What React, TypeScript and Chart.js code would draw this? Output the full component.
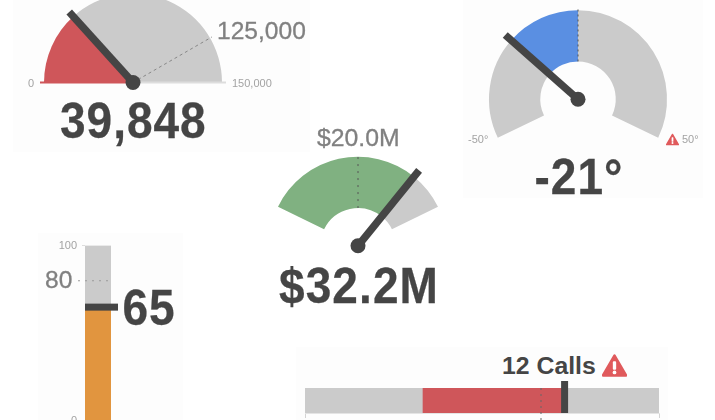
import React, { useEffect, useRef } from "react";
import { Chart, registerables } from "chart.js";

Chart.register(...registerables);

// ---- data ----
const revenueMin = 0;
const revenueMax = 150000;
const revenueValue = 39848;
const revenueTarget = 125000;

const tempMin = -50;
const tempMax = 50;
const tempValue = -21;
const tempTarget = 0;

const salesMin = 0;
const salesMax = 40;
const salesValue = 32.2;
const salesTarget = 20;

const levelMin = 0;
const levelMax = 100;
const levelValue = 65;
const levelTarget = 80;

const callsMin = -10;
const callsMax = 20;
const callsBase = 0;
const callsValue = 12;
const callsTarget = 10;

// ---- style ----
const GREY = "#cbcbcb";
const RED = "#cf565a";
const BLUE = "#5a8fe2";
const GREEN = "#80b181";
const ORANGE = "#e1953f";
const DARK = "#454545";
const MUTED = "#808080";
const LIGHT = "#a3a3a3";
const FONT = '"Liberation Sans", Arial, sans-serif';

const overlay = {
  id: "overlay",
  afterDatasetsDraw(chart: any) {
    const o = chart.options.plugins.overlay;
    if (!o) return;
    const ctx = chart.ctx;
    ctx.save();
    if (o.kind === "gauge") {
      const el = chart.getDatasetMeta(0).data[0];
      const cx = el.x;
      const cy = el.y;
      const R = el.outerRadius;
      const r = el.innerRadius;
      const angle = (v: number) =>
        ((o.rotation + ((v - o.min) / (o.max - o.min)) * o.circumference - 90) * Math.PI) / 180;
      if (o.base) {
        ctx.lineWidth = 2;
        ctx.strokeStyle = o.base[0];
        ctx.beginPath();
        ctx.moveTo(cx - R - 4, cy);
        ctx.lineTo(cx, cy);
        ctx.stroke();
        ctx.strokeStyle = o.base[1];
        ctx.beginPath();
        ctx.moveTo(cx, cy);
        ctx.lineTo(cx + R + 4, cy);
        ctx.stroke();
      }
      const t = angle(o.target);
      ctx.strokeStyle = o.targetColor;
      ctx.lineWidth = 1;
      ctx.setLineDash(o.dash);
      ctx.beginPath();
      ctx.moveTo(cx + r * Math.cos(t), cy + r * Math.sin(t));
      ctx.lineTo(cx + (R + 2) * Math.cos(t), cy + (R + 2) * Math.sin(t));
      ctx.stroke();
      ctx.setLineDash([]);
      const a = angle(o.value);
      ctx.strokeStyle = DARK;
      ctx.lineWidth = 7.5;
      ctx.beginPath();
      ctx.moveTo(cx, cy);
      ctx.lineTo(cx + o.needle * Math.cos(a), cy + o.needle * Math.sin(a));
      ctx.stroke();
      ctx.fillStyle = DARK;
      ctx.beginPath();
      ctx.arc(cx, cy, 7.5, 0, Math.PI * 2);
      ctx.fill();
    } else {
      const area = chart.chartArea;
      if (o.kind === "vbullet") {
        const sc = chart.scales.y;
        const ty = sc.getPixelForValue(o.target);
        ctx.strokeStyle = "#9a9a9a";
        ctx.lineWidth = 1;
        ctx.setLineDash([2, 5]);
        ctx.beginPath();
        ctx.moveTo(area.left - 7, ty);
        ctx.lineTo(area.right, ty);
        ctx.stroke();
        ctx.setLineDash([]);
        const vy = sc.getPixelForValue(o.value);
        ctx.fillStyle = DARK;
        ctx.fillRect(area.left, vy - 3.5, area.width + 7, 7);
      } else {
        const sc = chart.scales.x;
        const tx = sc.getPixelForValue(o.target);
        ctx.strokeStyle = "#666";
        ctx.lineWidth = 1;
        ctx.setLineDash([2, 4]);
        ctx.beginPath();
        ctx.moveTo(tx, area.top);
        ctx.lineTo(tx, chart.height);
        ctx.stroke();
        ctx.setLineDash([]);
        const vx = sc.getPixelForValue(o.value);
        ctx.fillStyle = DARK;
        ctx.fillRect(vx - 3.5, area.top - 7, 7, area.height + 7);
      }
    }
    ctx.restore();
  },
};

function Gauge(props: {
  cx: number;
  cy: number;
  segments: number[];
  colors: string[];
  rotation: number;
  circumference: number;
  cutout: string;
  overlay: any;
}) {
  const ref = useRef<HTMLCanvasElement>(null);
  useEffect(() => {
    const chart = new Chart(ref.current!, {
      type: "doughnut",
      data: {
        datasets: [
          { data: props.segments, backgroundColor: props.colors, borderWidth: 0, radius: 89 } as any,
        ],
      },
      options: {
        animation: false,
        responsive: false,
        events: [],
        rotation: props.rotation,
        circumference: props.circumference,
        cutout: props.cutout,
        plugins: {
          legend: { display: false },
          tooltip: { enabled: false },
          overlay: {
            kind: "gauge",
            rotation: props.rotation,
            circumference: props.circumference,
            ...props.overlay,
          },
        } as any,
      },
      plugins: [overlay],
    });
    const el: any = chart.getDatasetMeta(0).data[0];
    ref.current!.style.left = `${props.cx - el.x}px`;
    ref.current!.style.top = `${props.cy - el.y}px`;
    return () => chart.destroy();
  }, []);
  return <canvas ref={ref} width={300} height={300} style={{ position: "absolute" }} />;
}

function VBullet() {
  const ref = useRef<HTMLCanvasElement>(null);
  useEffect(() => {
    const chart = new Chart(ref.current!, {
      type: "bar",
      data: {
        labels: ["level"],
        datasets: [
          { data: [[levelMin, levelValue]], backgroundColor: ORANGE, grouped: false } as any,
          { data: [[levelMin, levelMax]], backgroundColor: GREY, grouped: false } as any,
        ],
      },
      options: {
        animation: false,
        responsive: false,
        events: [],
        barPercentage: 1,
        categoryPercentage: 1,
        layout: { padding: { top: 10, bottom: 10, right: 10, left: 0 } },
        scales: {
          x: { display: false },
          y: {
            min: levelMin,
            max: levelMax,
            afterBuildTicks: (s: any) => {
              s.ticks = [{ value: levelMin }, { value: levelMax }];
            },
            afterFit: (s: any) => {
              s.width = 40;
            },
            border: { display: false },
            grid: { drawOnChartArea: false, tickLength: 3, color: "#dddddd" },
            ticks: { padding: 5, color: LIGHT, font: { family: FONT, size: 11 } },
          },
        },
        plugins: {
          legend: { display: false },
          tooltip: { enabled: false },
          overlay: { kind: "vbullet", value: levelValue, target: levelTarget },
        } as any,
      } as any,
      plugins: [overlay],
    });
    return () => chart.destroy();
  }, []);
  return (
    <canvas ref={ref} width={76} height={199} style={{ position: "absolute", left: 45, top: 234 }} />
  );
}

function HBullet() {
  const ref = useRef<HTMLCanvasElement>(null);
  useEffect(() => {
    const chart = new Chart(ref.current!, {
      type: "bar",
      data: {
        labels: ["calls"],
        datasets: [
          { data: [[callsBase, callsValue]], backgroundColor: RED, grouped: false } as any,
          { data: [[callsMin, callsMax]], backgroundColor: GREY, grouped: false } as any,
        ],
      },
      options: {
        animation: false,
        responsive: false,
        events: [],
        indexAxis: "y",
        barPercentage: 1,
        categoryPercentage: 1,
        layout: { padding: { top: 7, bottom: 0, left: 10, right: 10 } },
        scales: {
          y: { display: false },
          x: {
            min: callsMin,
            max: callsMax,
            afterBuildTicks: (s: any) => {
              s.ticks = [{ value: callsMin }, { value: callsMax }];
            },
            afterFit: (s: any) => {
              s.height = 8;
            },
            border: { display: true, color: "#e4e4e4" },
            grid: { drawOnChartArea: false, tickLength: 5, color: "#d4d4d4" },
            ticks: { display: false },
          },
        },
        plugins: {
          legend: { display: false },
          tooltip: { enabled: false },
          overlay: { kind: "hbullet", value: callsValue, target: callsTarget },
        } as any,
      } as any,
      plugins: [overlay],
    });
    return () => chart.destroy();
  }, []);
  return (
    <canvas ref={ref} width={374} height={40} style={{ position: "absolute", left: 295, top: 381 }} />
  );
}

function Label(props: {
  x: number;
  y: number;
  size: number;
  color: string;
  bold?: boolean;
  stroke?: number;
  tall?: number;
  spacing?: number;
  text: string;
}) {
  return (
    <div
      style={{
        position: "absolute",
        left: props.x,
        top: props.y - props.size / 2,
        fontFamily: FONT,
        fontSize: props.size,
        lineHeight: `${props.size}px`,
        fontWeight: props.bold ? 700 : 400,
        color: props.color,
        whiteSpace: "nowrap",
        letterSpacing: props.spacing ? `${props.spacing}px` : undefined,
        WebkitTextStroke: props.stroke ? `${props.stroke}px ${props.color}` : undefined,
        transform: props.tall ? `scaleY(${props.tall})` : undefined,
      }}
    >
      {props.text}
    </div>
  );
}

function Warn(props: { x: number; y: number; size: number }) {
  return (
    <svg
      width={props.size}
      height={props.size}
      viewBox="0 0 24 24"
      style={{ position: "absolute", left: props.x, top: props.y }}
    >
      <path d="M12 2.5 L23 21.5 L1 21.5 Z" fill="#e05a5c" stroke="#e05a5c" strokeWidth="2.5" strokeLinejoin="round" />
      <rect x="10.4" y="8" width="3.2" height="8" rx="1" fill="#fff" />
      <circle cx="12" cy="18.6" r="1.8" fill="#fff" />
    </svg>
  );
}

function Tile(props: { x: number; y: number; w: number; h: number }) {
  return (
    <div
      style={{
        position: "absolute",
        left: props.x,
        top: props.y,
        width: props.w,
        height: props.h,
        background: "#fdfdfd",
      }}
    />
  );
}

export default function App() {
  return (
    <div
      style={{
        position: "fixed",
        left: 0,
        top: 0,
        width: 715,
        height: 420,
        overflow: "hidden",
        background: "#fff",
        filter: "blur(0.6px)",
      }}
    >
      <Tile x={13} y={0} w={297} h={152} />
      <Tile x={463} y={0} w={240} h={198} />
      <Tile x={38} y={233} w={145} h={187} />
      <Tile x={296} y={347} w={372} h={73} />

      <Gauge
        cx={132.5}
        cy={82}
        segments={[revenueValue - revenueMin, revenueMax - revenueValue]}
        colors={[RED, GREY]}
        rotation={-90}
        circumference={180}
        cutout="0%"
        overlay={{
          min: revenueMin,
          max: revenueMax,
          value: revenueValue,
          target: revenueTarget,
          needle: 95,
          base: [RED, "#dddddd"],
          targetColor: "#888888",
          dash: [3, 3],
        }}
      />
      <Gauge
        cx={578}
        cy={99}
        segments={[tempValue - tempMin, tempTarget - tempValue, tempMax - tempTarget]}
        colors={[GREY, BLUE, GREY]}
        rotation={-115.7}
        circumference={231.4}
        cutout="42.4%"
        overlay={{
          min: tempMin,
          max: tempMax,
          value: tempValue,
          target: tempTarget,
          needle: 97,
          targetColor: "#555555",
          dash: [2, 3],
        }}
      />
      <Gauge
        cx={358}
        cy={246}
        segments={[salesValue - salesMin, salesMax - salesValue]}
        colors={[GREEN, GREY]}
        rotation={-64}
        circumference={128}
        cutout="42.4%"
        overlay={{
          min: salesMin,
          max: salesMax,
          value: salesValue,
          target: salesTarget,
          needle: 97,
          targetColor: "#555555",
          dash: [2, 5],
        }}
      />
      <VBullet />
      <HBullet />

      <Label x={60} y={121} size={46} spacing={1} color={DARK} bold stroke={0.25} tall={1.08} text="39,848" />
      <Label x={217} y={31} size={24.6} color={MUTED} stroke={0.3} text="125,000" />
      <Label x={28} y={83} size={11} color={LIGHT} text="0" />
      <Label x={232} y={83} size={11} color={LIGHT} text="150,000" />

      <Label x={534.5} y={176.5} size={46} spacing={1} color={DARK} bold stroke={0.25} tall={1.08} text="-21°" />
      <Label x={468} y={139} size={11} color={LIGHT} text="-50°" />
      <Label x={682} y={139} size={11} color={LIGHT} text="50°" />
      <Warn x={666} y={133} size={13} />

      <Label x={279} y={285.5} size={46} spacing={1.1} color={DARK} bold stroke={0.25} tall={1.08} text="$32.2M" />
      <Label x={317} y={138} size={24.8} color={MUTED} stroke={0.3} text="$20.0M" />

      <Label x={122.5} y={306.5} size={46} spacing={1} color={DARK} bold stroke={0.25} tall={1.1} text="65" />
      <Label x={45} y={280} size={24.6} color={MUTED} stroke={0.3} text="80" />

      <Label x={502} y={366} size={24.8} color={DARK} bold text="12 Calls" />
      <Warn x={602} y={353} size={25} />
    </div>
  );
}
